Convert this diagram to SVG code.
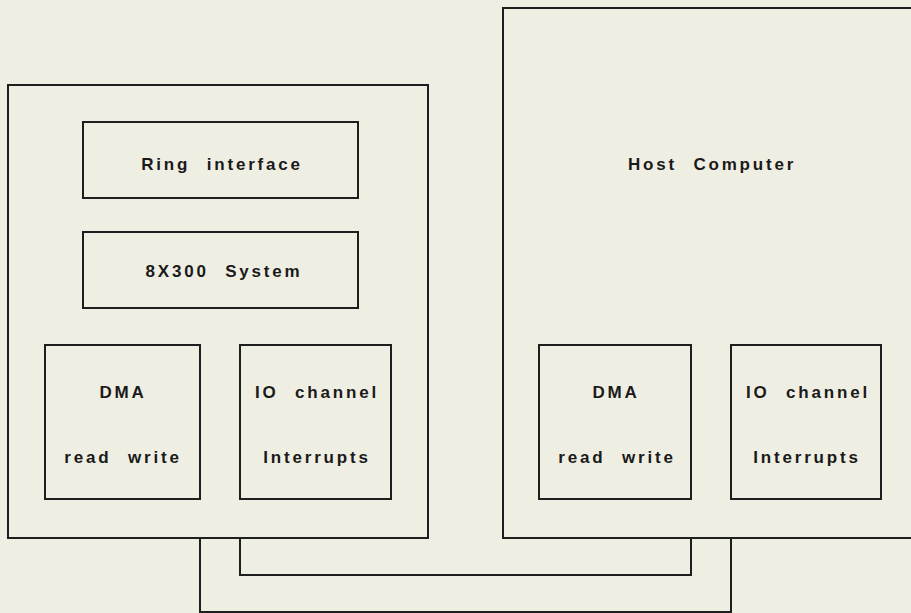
<svg xmlns="http://www.w3.org/2000/svg" width="911" height="613" viewBox="0 0 911 613">
<style>
.box{fill:none;stroke:#1e1e1e;stroke-width:2}
.wire{fill:none;stroke:#1e1e1e;stroke-width:2}
text{font-family:"Liberation Sans",Arial,sans-serif;font-weight:bold;font-size:17px;fill:#1a1a1a;text-anchor:middle;letter-spacing:2.8px;word-spacing:9px}
</style>
<rect x="0" y="0" width="911" height="613" fill="#efeee3"/>
<g id="connectors">
<path class="wire" d="M240,538 V575 H691 V538"/>
<path class="wire" d="M200,538 V612 H731 V538"/>
</g>
<g id="interface-unit">
<rect class="box" x="8" y="85" width="420" height="453"/>
</g>
<g id="ring-interface">
<rect class="box" x="83" y="122" width="275" height="76"/>
<text x="222" y="170">Ring interface</text>
</g>
<g id="system-8x300">
<rect class="box" x="83" y="232" width="275" height="76"/>
<text x="224" y="277">8X300 System</text>
</g>
<g id="left-dma">
<rect class="box" x="45" y="345" width="155" height="154"/>
<text x="123" y="398">DMA</text>
<text x="123" y="463">read write</text>
</g>
<g id="left-io">
<rect class="box" x="240" y="345" width="151" height="154"/>
<text x="317" y="398">IO channel</text>
<text x="317" y="463">Interrupts</text>
</g>
<g id="host-computer">
<path class="box" d="M915,8 H503 V538 H915"/>
<text x="712" y="170">Host Computer</text>
</g>
<g id="host-dma">
<rect class="box" x="539" y="345" width="152" height="154"/>
<text x="616" y="398">DMA</text>
<text x="617" y="463">read write</text>
</g>
<g id="host-io">
<rect class="box" x="731" y="345" width="150" height="154"/>
<text x="808" y="398">IO channel</text>
<text x="807" y="463">Interrupts</text>
</g>
</svg>
